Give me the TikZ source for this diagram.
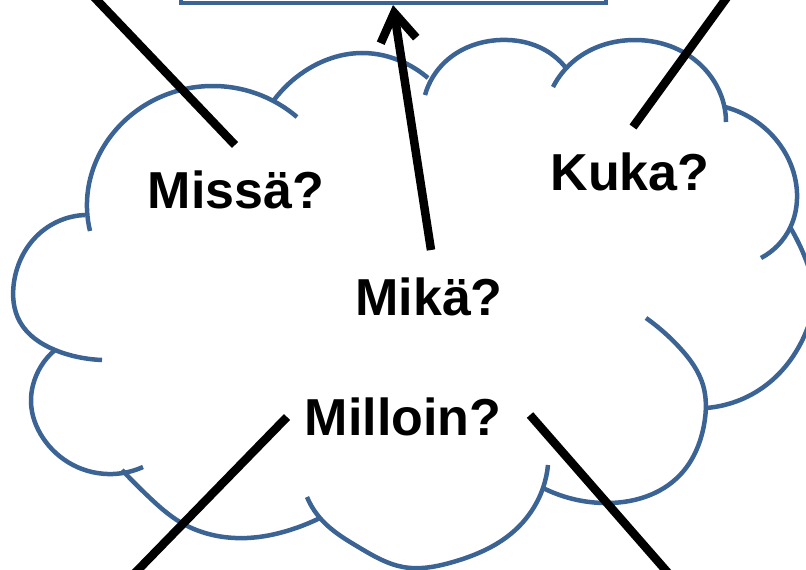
\documentclass[tikz,border=0pt]{standalone}
\usepackage{fontspec}
\setmainfont{Liberation Sans}
\usetikzlibrary{
  hobby,
  arrows.meta
}
\definecolor{cloudblue}{RGB}{59,99,148}
\tikzset{
  use Hobby shortcut,
  puff/.style={
    draw,
    line width=4.5pt,
    cloudblue
  },
  pointer/.style={
    draw,
    line width=8.5pt,
    black
  },
  question/.style={
    font=\fontsize{52}{60}\selectfont\bfseries,
    inner sep=0pt,
    anchor=base
  }
}

\begin{document}
\begin{tikzpicture}[x=1pt, y=-1pt]
  \useasboundingbox (0,0) rectangle (806,570);
  \clip (0,0) rectangle (806,570);
  % cloud lobes, clockwise from the upper left
  \path[puff] (90,231) .. (88,190) .. (114,132) .. (210,86) .. (297,117);
  \path[puff] (274,100) .. (305,71) .. (362,53) .. (405,63) .. (428,78);
  \path[puff] (425,95) .. (445,62) .. (500,40) .. (545,50) .. (566,68);
  \path[puff] (553,87) .. (575,60) .. (635,40) .. (695,60) .. (725,110) .. (726,122);
  \path[puff] (725,107) .. (770,133) .. (797,193) .. (790,228) .. (761,258);
  \path[puff] (790,227) .. (806,260) .. (814,296) .. (806,332) .. (770,382) .. (706,408);
  \path[puff] (646,318) .. (680,348) .. (703,385) .. (704,425) .. (680,475) .. (603,503) .. (543,488);
  \path[puff] (548,465) .. (543,488) .. (513,532) .. (453,562) .. (403,567) .. (360,548) .. (320,518) .. (307,497);
  \path[puff] (122,470) .. (150,498) .. (180,522) .. (247,538) .. (290,530) .. (320,518);
  \path[puff] (55,350) .. (33,385) .. (31,402) .. (43,438) .. (73,465) .. (113,474) .. (143,467);
  \path[puff] (85,215) .. (40,233) .. (14,282) .. (20,322) .. (55,350) .. (83,358) .. (102,360);

  \node[puff, line width=4pt, minimum width=425pt, minimum height=40pt, anchor=south, inner sep=0pt] (box) at (393,5) {};

  \node[question] (missa) at (236,208) {Missä?};
  \node[question] (kuka) at (630,190) {Kuka?};
  \node[question] (mika) at (429,315) {Mikä?};
  \node[question] (milloin) at (403,435) {Milloin?};

  \coordinate (missain) at (235,145);
  \coordinate (missaout) at (93,-4);
  \coordinate (kukain) at (633,127);
  \coordinate (kukaout) at (728,-4);
  \coordinate (mikain) at (431,250);
  \coordinate (milloinleft) at (287,417);
  \coordinate (milloinright) at (530,415);
  \coordinate (leftout) at (134,574);
  \coordinate (rightout) at (669,574);

  \path[pointer] (missaout) -- (missain);
  \path[pointer] (kukaout) -- (kukain);
  \path[pointer] (milloinleft) -- (leftout);
  \path[pointer] (milloinright) -- (rightout);
  \path[pointer, -{Straight Barb[length=28pt, width=36pt]}] (mikain) -- (box.south);
\end{tikzpicture}
\end{document}
